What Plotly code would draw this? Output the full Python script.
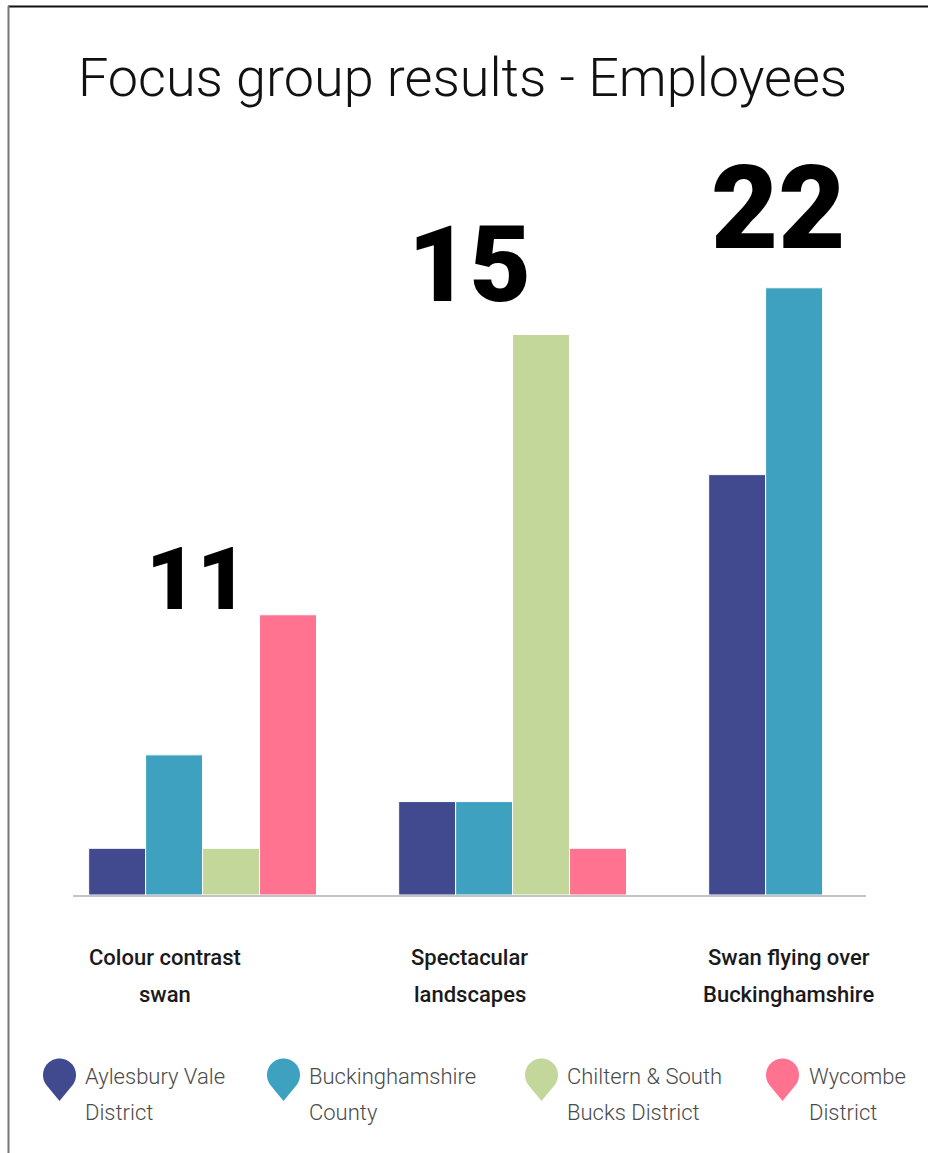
import numpy as np
import plotly.graph_objects as go

# ---- data ----
categories = ["Colour contrast swan", "Spectacular landscapes", "Swan flying over Buckinghamshire"]
category_lines = [["Colour contrast", "swan"], ["Spectacular", "landscapes"], ["Swan flying over", "Buckinghamshire"]]
series_names = ["Aylesbury Vale District", "Buckinghamshire County", "Chiltern & South Bucks District", "Wycombe District"]
legend_lines = [["Aylesbury Vale", "District"], ["Buckinghamshire", "County"], ["Chiltern & South", "Bucks District"], ["Wycombe", "District"]]
aylesbury = [1, 2, 9]
bucks_county = [3, 2, 13]
chiltern = [1, 12, 0]
wycombe = [6, 1, 0]
totals = [11, 15, 22]

series_values = [aylesbury, bucks_county, chiltern, wycombe]
colors = ["#414a8f", "#3da1bf", "#c4d79b", "#ff7391"]

W, H = 928, 1153

def px(x):
    return x / W

def py(y):
    return 1 - y / H

fig = go.Figure()
for name, vals, col in zip(series_names, series_values, colors):
    fig.add_trace(go.Bar(
        x=categories, y=[v if v else None for v in vals], name=name,
        marker=dict(color=col, line=dict(color="white", width=1)),
        showlegend=False, hoverinfo="x+y+name",
    ))

# category labels (two lines each, wide line spacing)
label_shift = [-38, -43, -34]
line_y = [957, 994]
for cat, lines, sh in zip(categories, category_lines, label_shift):
    for ln, yy in zip(lines, line_y):
        fig.add_annotation(x=cat, xref="x", y=py(yy), yref="paper", text=ln,
                           showarrow=False, xshift=sh, yanchor="middle", xanchor="center",
                           font=dict(family="Roboto", size=22, color="#1a1a1a", weight=500))

# totals
total_sizes = [88, 106, 116]
total_xshift = [-6, -43, -45]
total_yshift = [36, 70, 80]
for cat, t, sz, xs, ys, i in zip(categories, totals, total_sizes, total_xshift, total_yshift, range(3)):
    top = max(v[i] for v in series_values)
    fig.add_annotation(x=cat, xref="x", y=top, yref="y", text=str(t),
                       showarrow=False, xshift=xs, yshift=ys, yanchor="middle",
                       font=dict(family="Roboto", size=sz, color="#000000", weight=900))

# title
fig.add_annotation(x=px(462), y=py(78), xref="paper", yref="paper",
                   text="Focus group results - Employees", showarrow=False,
                   font=dict(family="Roboto", size=54, color="#111111", weight=300),
                   xanchor="center", yanchor="middle")

# custom legend (teardrop markers)
legend_marker_x = [59.5, 283.5, 541.5, 782.5]
legend_text_x = [83, 307, 565, 807]
legend_line_y = [1076, 1112]
shapes = []
r, d = 16.5, 26
theta = np.arccos(r / d)
for mx, tx, lines, col in zip(legend_marker_x, legend_text_x, legend_lines, colors):
    cy = 1075
    angs = np.linspace(theta, 2 * np.pi - theta, 40)
    pts = [(mx, cy + d)] + [(mx + r * np.sin(a), cy + r * np.cos(a)) for a in angs]
    path = "M " + " L ".join(f"{px(x):.5f},{py(y):.5f}" for x, y in pts) + " Z"
    shapes.append(dict(type="path", path=path, xref="paper", yref="paper",
                       fillcolor=col, line=dict(width=0)))
    for ln, yy in zip(lines, legend_line_y):
        fig.add_annotation(x=px(tx), y=py(yy), xref="paper", yref="paper", text=ln,
                           showarrow=False, xanchor="left", yanchor="middle", align="left",
                           font=dict(family="Roboto", size=22, color="#4a4a4a", weight=300))

# frame
shapes.append(dict(type="line", xref="paper", yref="paper", x0=px(8), x1=1.0, y0=py(6.5), y1=py(6.5),
                   line=dict(color="#111111", width=2)))
shapes.append(dict(type="line", xref="paper", yref="paper", x0=px(8.5), x1=px(8.5), y0=py(6), y1=0,
                   line=dict(color="#777777", width=2)))

fig.update_layout(
    width=W, height=H, margin=dict(l=0, r=0, t=0, b=0),
    paper_bgcolor="white", plot_bgcolor="white",
    barmode="group", bargap=0.265, bargroupgap=0,
    shapes=shapes,
    xaxis=dict(domain=[px(73), px(866)], range=[-0.418, 2.14], showticklabels=False,
               showgrid=False, zeroline=False, showline=True, linecolor="#c4c4c4", linewidth=2,
               ticks=""),
    yaxis=dict(domain=[py(895), py(150)], range=[0, 15.95], visible=False, showgrid=False),
)

fig.write_html("out.html")
